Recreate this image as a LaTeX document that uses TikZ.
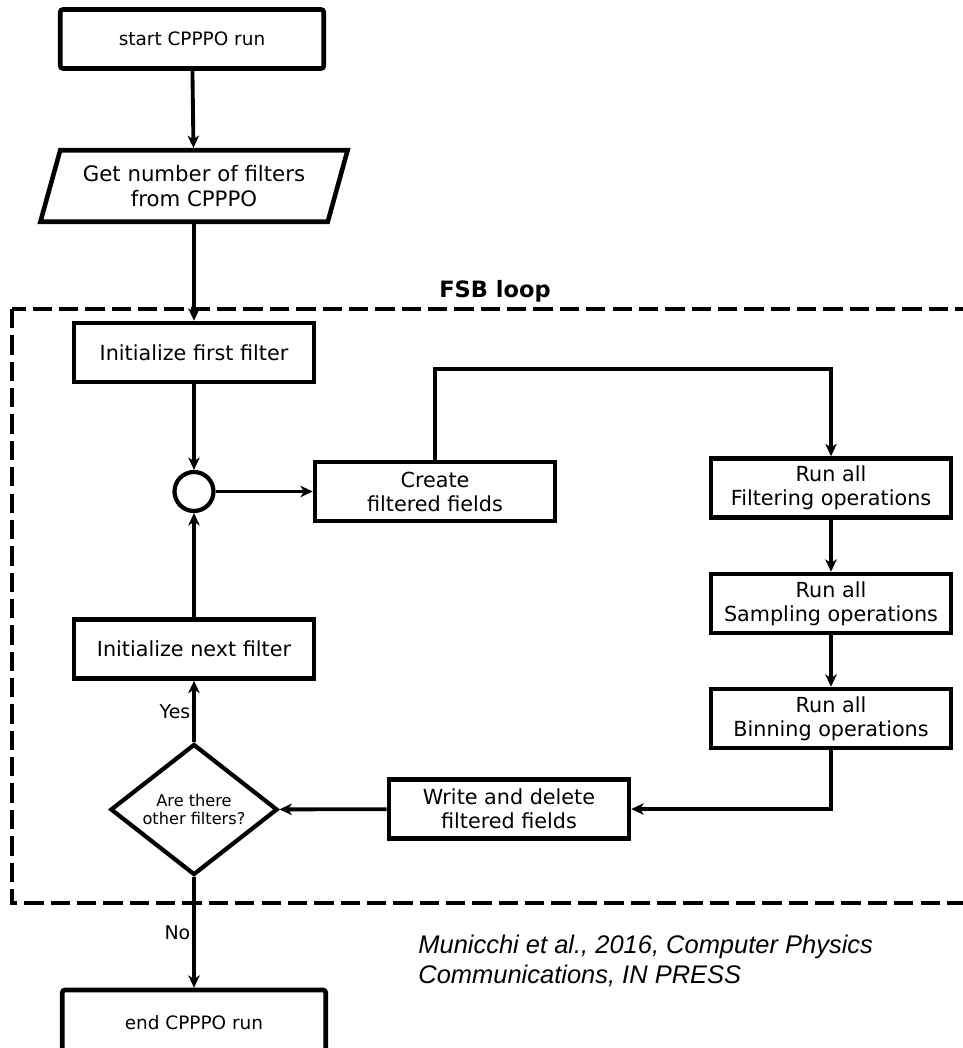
\documentclass[tikz,border=0pt]{standalone}
\usepackage{fontspec}
\setmainfont{DejaVu Sans}
\newfontfamily\citefont{Liberation Sans}
\usepackage{tikz}
\usetikzlibrary{shapes.geometric,arrows.meta}

\begin{document}
\begin{tikzpicture}[x=1cm,y=-1cm,
  box/.style={draw, line width=2.6pt, minimum width=4.8cm, minimum height=1.18cm, inner sep=0pt, align=center, font=\fontsize{11.8}{13.6}\selectfont},
  endbox/.style={box, minimum width=5.27cm, rounded corners=1.5pt, font=\fontsize{10.5}{12}\selectfont},
  arr/.style={line width=2.2pt, -{Stealth[length=7pt,width=6.5pt,inset=2pt]}},
  lbl/.style={inner sep=1pt, font=\fontsize{10.8}{12}\selectfont}]

\useasboundingbox (0,0) rectangle (19.26,20.96);

%%%%%%%%%%%%%%%%%%%%%%%%%%%% before the loop %%%%%%%%%%%%%%%%%%%%
\node[endbox] (start) at (3.84,0.78) {start CPPPO run};
\node[draw, trapezium, trapezium left angle=68, trapezium right angle=112, trapezium stretches=true,
      line width=2.6pt, minimum width=6.15cm, minimum height=1.43cm, inner sep=0pt, align=center,
      font=\fontsize{12.1}{13.8}\selectfont] (para) at (3.88,3.72) {Get number of filters\\ from CPPPO};

\draw[arr] (start) -- (para);

%%%%%%%%%%%%%%%%%%%%%%%%%%%% FSB loop %%%%%%%%%%%%%%%%%%%%
\draw [dashed, line width=2pt, dash pattern=on 11pt off 4pt] (0.24,6.18) rectangle (19.6,18.06);
\node[font=\bfseries\fontsize{12.8}{14}\selectfont] (fsb) at (9.90,5.83) {FSB loop};

\node[box] (first) at (3.88,7.05) {Initialize first filter};
\node[draw, circle, line width=2.4pt, minimum size=0.78cm, inner sep=0pt] (join) at (3.88,9.83) {};
\node[box] (create) at (8.70,9.83) {Create\\ filtered fields};

\node[box] (filt) at (16.62,9.76) {Run all\\ Filtering operations};
\node[box] (samp) at (16.62,12.07) {Run all\\ Sampling operations};
\node[box] (bin) at (16.62,14.37) {Run all\\ Binning operations};

\node[box] (write) at (10.18,16.18) {Write and delete\\ filtered fields};
\node[draw, diamond, aspect=1.3, line width=2.4pt, minimum width=3.34cm, minimum height=2.62cm, inner sep=0pt,
      align=center, font=\fontsize{9.2}{10.4}\selectfont] (dec) at (3.88,16.19) {Are there\\ other filters?};
\node[box] (next) at (3.88,12.98) {Initialize next filter};

\draw[arr] (para) -- (first);
\draw[arr] (first) -- (join);
\draw[arr] (join) -- (create);
\draw[arr] (create.north) -- ++(0,-1.82) -| (filt.north);
\draw[arr] (filt) -- (samp);
\draw[arr] (samp) -- (bin);
\draw[arr] (bin.south) |- (write.east);
\draw[arr] (write) -- (dec);
\draw[arr] (dec) -- node[lbl, left] {Yes} (next);
\draw[arr] (next) -- (join);

%%%%%%%%%%%%%%%%%%%%%%%%%%%% after the loop %%%%%%%%%%%%%%%%%%%%
\node[endbox, minimum height=1.3cm] (end) at (3.88,20.45) {end CPPPO run};
\draw[arr] (dec) -- node[lbl, left] {No} (end);

\node[anchor=north west, inner sep=0pt, align=left, font=\citefont\itshape\fontsize{14.5}{17}\selectfont]
  (cite) at (8.36,18.70) {Municchi et al., 2016, Computer Physics\\ Communications, IN PRESS};

\end{tikzpicture}
\end{document}
